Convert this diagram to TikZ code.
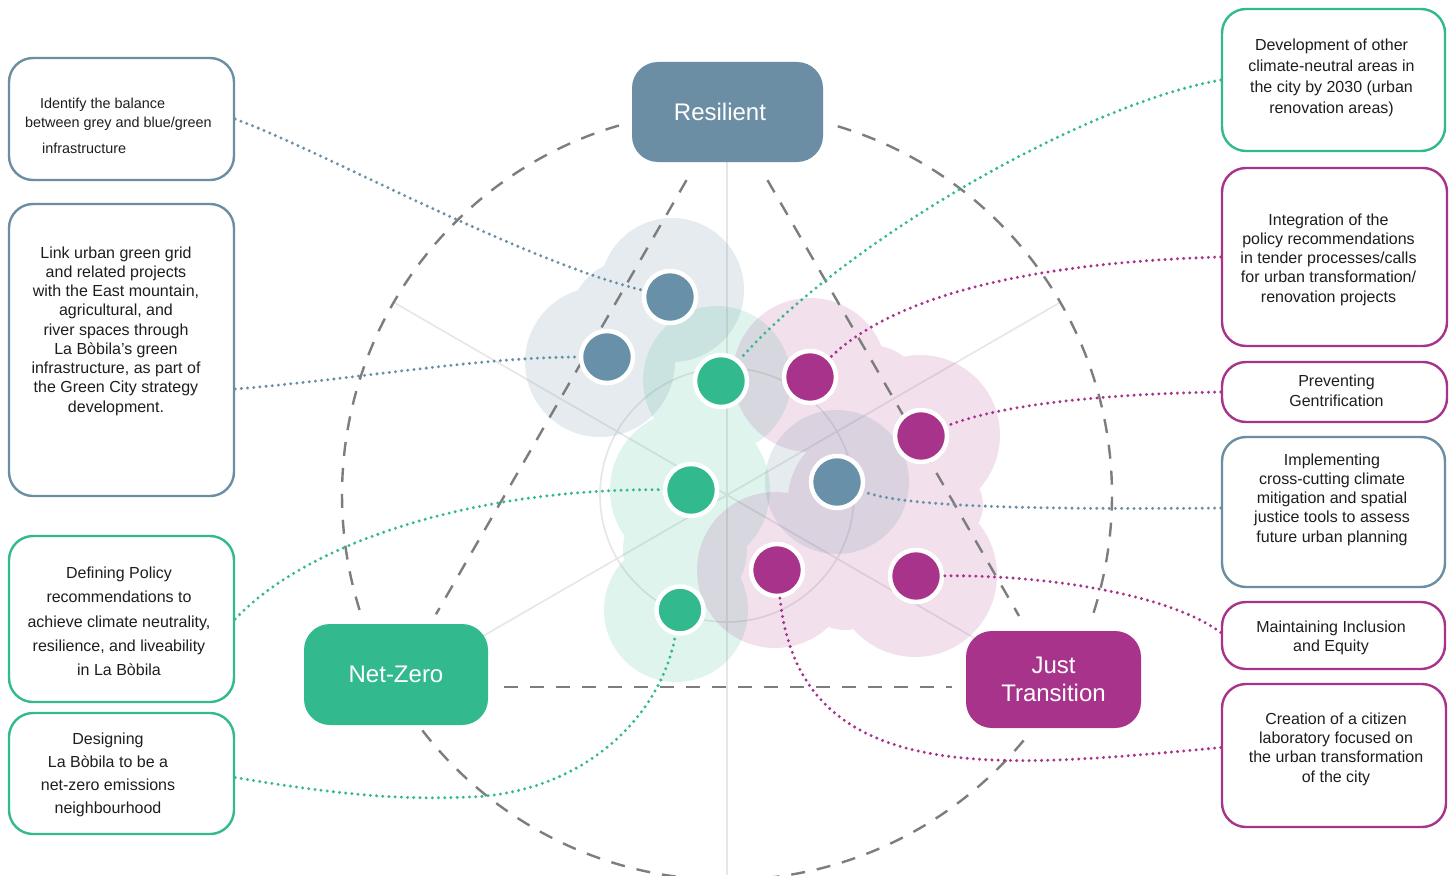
\documentclass[tikz,border=0pt]{standalone}
\usepackage{fontspec}
\setmainfont{Liberation Sans}
\usetikzlibrary{calc}
\definecolor{cblue}{HTML}{6C8EA4}
\definecolor{dblue}{HTML}{6890A8}
\definecolor{cgreen}{HTML}{32BA8E}
\definecolor{cmag}{HTML}{A8338A}
\definecolor{dashgray}{HTML}{7D7D7D}
\definecolor{thingray}{HTML}{E6E6E6}
\definecolor{txt}{HTML}{1E1E1E}
\begin{document}
\begin{tikzpicture}[x=1pt,y=-1pt,
  tbox/.style={draw, line width=2.4pt, rounded corners=24pt, fill=white, inner sep=0pt},
  catbox/.style={rounded corners=26pt, inner sep=0pt, text=white, font=\fontsize{24}{28}\selectfont, align=center},
  txtn/.style={inner sep=0pt, align=center, text=txt, font=\fontsize{16}{19.25}\selectfont},
  dotn/.style={circle, draw=white, line width=4.5pt, minimum size=52pt, inner sep=0pt},
  conn/.style={line width=3.3pt, dash pattern=on 0pt off 6.2pt, line cap=round},
  dashl/.style={draw=dashgray, line width=2.4pt, dash pattern=on 14pt off 12pt},
  thinl/.style={draw=thingray, line width=1.6pt},
]
\useasboundingbox[fill=white] (0,0) rectangle (1455,875);

% thin construction lines
\coordinate (c) at (727,495);
\coordinate (s150) at (394,302.5);
\coordinate (s330) at (1060,687.5);
\coordinate (s30) at (1060,302.5);
\coordinate (s210) at (394,687.5);
\coordinate (vtop) at (727,140);
\coordinate (vbot) at (727,875);
\draw[thinl] (c) circle (127);
\draw[thinl] (s150) -- (s330);
\draw[thinl] (s30) -- (s210);
\draw[thinl] (vtop) -- (vbot);

% blobs
\fill[cblue, opacity=0.17] (672,290) circle (72) (600,362) circle (75) (630,320) circle (60);
\fill[cgreen, opacity=0.15] (717,380) circle (74) (690,490) circle (80) (676,610) circle (72) (685,550) circle (62);
\fill[cmag, opacity=0.15] (810,375) circle (77) (920,435) circle (80) (915,575) circle (82) (775,570) circle (78) (860,500) circle (72) (870,400) circle (55) (945,505) circle (38) (845,585) circle (45);
\fill[cblue, opacity=0.17] (837,482) circle (72);

% dashed circle
\draw[dashl] ([shift={(-106.3:385)}]c) arc[start angle=-106.3, end angle=-197.9, radius=385];
\draw[dashl] ([shift={(-217.7:385)}]c) arc[start angle=-217.7, end angle=-322.1, radius=385];
\draw[dashl] ([shift={(-342.2:385)}]c) arc[start angle=-342.2, end angle=-433.7, radius=385];

% dashed triangle
\coordinate (vR) at (727,110);
\coordinate (vN) at (394,687);
\coordinate (vJ) at (1060,687);
\draw[dashl, shorten <=81pt, shorten >=84pt] (vR) -- (vN);
\draw[dashl, shorten <=81pt, shorten >=82pt] (vR) -- (vJ);
\draw[dashl, shorten <=110pt, shorten >=108pt] (vN) -- (vJ);

% category boxes
\node[catbox, fill=cblue, minimum width=191pt, minimum height=100pt] (res) at (727.5,112) {\hspace*{-15pt}Resilient};
\node[catbox, fill=cgreen, minimum width=184pt, minimum height=101pt] (nz) at (396,674.5) {Net-Zero};
\node[catbox, fill=cmag, minimum width=175pt, minimum height=97pt] (jt) at (1053.5,679.5) {Just\\Transition};

% text boxes
\node[tbox, draw=cblue, minimum width=225pt, minimum height=122pt] (l1) at (121.5,119) {};
\node[tbox, draw=cblue, minimum width=225pt, minimum height=292pt] (l2) at (121.5,350) {};
\node[tbox, draw=cgreen, minimum width=225pt, minimum height=166pt] (l3) at (121.5,619) {};
\node[tbox, draw=cgreen, minimum width=225pt, minimum height=121pt] (l4) at (121.5,773.5) {};
\node[tbox, draw=cgreen, minimum width=223pt, minimum height=142pt] (r1) at (1333.5,80) {};
\node[tbox, draw=cmag, minimum width=225pt, minimum height=178pt] (r2) at (1334.5,257) {};
\node[tbox, draw=cmag, minimum width=225pt, minimum height=60pt] (r3) at (1334.5,392) {};
\node[tbox, draw=cblue, minimum width=223pt, minimum height=150pt] (r4) at (1333.5,512) {};
\node[tbox, draw=cmag, minimum width=223pt, minimum height=67pt] (r5) at (1333.5,635.5) {};
\node[tbox, draw=cmag, minimum width=224pt, minimum height=143pt] (r6) at (1334,755.5) {};

% texts
\node[txtn, align=left, font=\fontsize{14.4}{19}\selectfont, anchor=west] (t1) at (25,125.5) {\hspace*{15pt}Identify the balance\\between grey and blue/green\\[7pt]\hspace*{17pt}infrastructure};
\node[txtn] (t2) at (116,331) {Link urban green grid\\and related projects\\with the East mountain,\\agricultural, and\\river spaces through\\La Bòbila’s green\\infrastructure, as part of\\the Green City strategy\\development.};
\node[txtn, font=\fontsize{16}{24.25}\selectfont] (t3) at (119,621.5) {Defining Policy\\recommendations to\\achieve climate neutrality,\\resilience, and liveability\\in La Bòbila};
\node[txtn, font=\fontsize{16}{23}\selectfont] (t4) at (108,774.5) {Designing\\La Bòbila to be a\\net-zero emissions\\neighbourhood};
\node[txtn, font=\fontsize{16}{21}\selectfont] (t5) at (1331.5,77.5) {Development of other\\climate-neutral areas in\\the city by 2030 (urban\\renovation areas)};
\node[txtn] (t6) at (1328.5,259.5) {Integration of the\\policy recommendations\\in tender processes/calls\\for urban transformation/\\renovation projects};
\node[txtn, font=\fontsize{16}{20}\selectfont] (t7) at (1336.5,390.5) {Preventing\\Gentrification};
\node[txtn] (t8) at (1332,499.5) {Implementing\\cross-cutting climate\\mitigation and spatial\\justice tools to assess\\future urban planning};
\node[txtn, font=\fontsize{16}{19}\selectfont] (t9) at (1331,638) {Maintaining Inclusion\\and Equity};
\node[txtn] (t10) at (1336,749) {Creation of a citizen\\laboratory focused on\\the urban transformation\\of the city};

% dots
\node[dotn, fill=dblue] (b1) at (670,297) {};
\node[dotn, fill=dblue] (b2) at (607,357) {};
\node[dotn, fill=dblue] (b3) at (837,482) {};
\node[dotn, fill=cgreen] (g1) at (721,381) {};
\node[dotn, fill=cgreen] (g2) at (691,490) {};
\node[dotn, fill=cgreen, minimum size=47pt] (g3) at (680,610) {};
\node[dotn, fill=cmag] (m1) at (810,377) {};
\node[dotn, fill=cmag] (m2) at (921,436) {};
\node[dotn, fill=cmag] (m3) at (916,576) {};
\node[dotn, fill=cmag] (m4) at (777,570) {};

% connectors
\draw[conn, dblue] (l1.east) .. controls (320,150) and (520,260) .. (b1);
\draw[conn, dblue] ($(l2.east)+(0,39)$) .. controls (350,380) and (480,357) .. (b2);
\draw[conn, cgreen] (l3.east) .. controls (310,540) and (480,488) .. (g2);
\coordinate (k4) at (470,797);
\draw[conn, cgreen] ($(l4.east)+(0,4)$) .. controls (340,795) and (400,800) .. (k4) .. controls (580,793) and (660,720) .. (g3);
\draw[conn, cgreen] (r1.west) .. controls (1080,105) and (840,245) .. (g1);
\draw[conn, cmag] (r2.west) .. controls (1050,262) and (900,290) .. (m1);
\draw[conn, cmag] (r3.west) .. controls (1100,394) and (1000,405) .. (m2);
\draw[conn, dblue] ($(r4.west)+(0,-4)$) .. controls (1000,510) and (900,505) .. (b3);
\draw[conn, cmag] ($(r5.west)+(0,-3)$) .. controls (1170,595) and (1050,575) .. (m3);
\draw[conn, cmag] ($(r6.west)+(0,-8)$) .. controls (1000,768) and (800,790) .. (m4);
\end{tikzpicture}
\end{document}
